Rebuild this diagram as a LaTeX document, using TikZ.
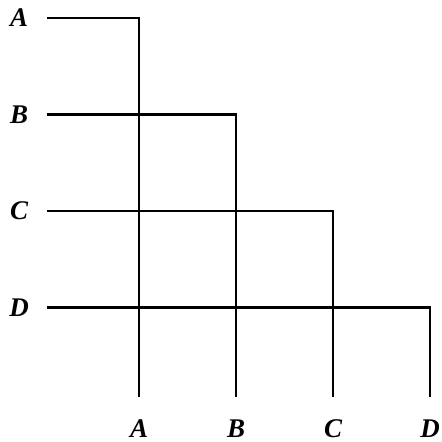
\documentclass[tikz,border=0pt]{standalone}
\usepackage{fontspec}
\setmainfont{Liberation Serif}
\usetikzlibrary{positioning}
\begin{document}
\begin{tikzpicture}[x=0.03cm,y=-0.03cm,
    tree/.style={line width=1.9pt,line join=miter},
    lab/.style={font=\fontsize{23}{26}\selectfont\itshape\bfseries,inner sep=0pt}]
    % Cadre de la figure
    \useasboundingbox (0,0) rectangle (442,442);

    % Lignes : depuis la gauche puis vers le bas
    \foreach \n/\i in {A/0,B/1,C/2,D/3}{
        \node[lab] (l\n) at (19,18+96.5*\i) {\n};
        \node[lab] (b\n) at (139+97*\i,429) {\n};
        \coordinate (s\n) at (47,18+96.5*\i);
        \coordinate (k\n) at (139+97*\i,18+96.5*\i);
        \coordinate (e\n) at (139+97*\i,397);
        \draw[tree] (s\n) -- (k\n) -- (e\n);
    }
\end{tikzpicture}
\end{document}
